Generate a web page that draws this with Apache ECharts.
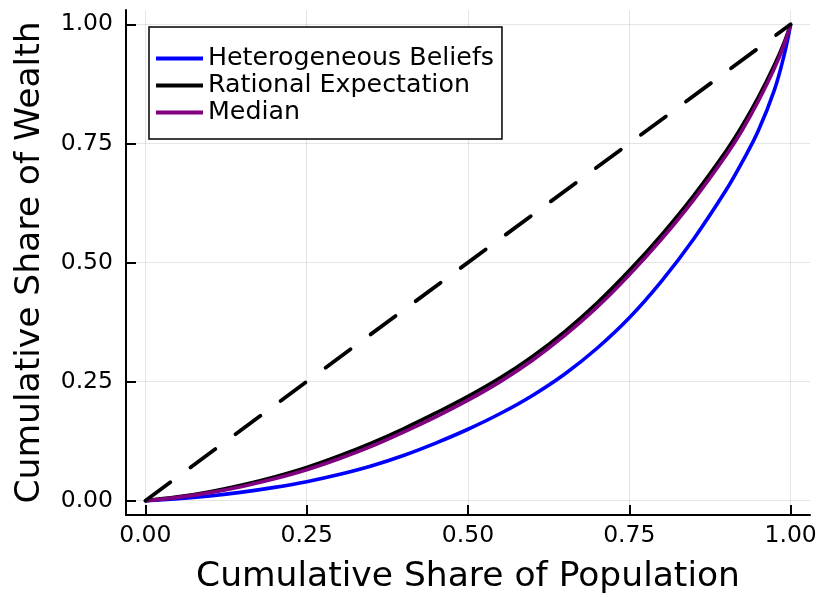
<!DOCTYPE html>
<html>
<head>
<meta charset="utf-8">
<title>Lorenz curves</title>
<script src="https://cdn.jsdelivr.net/npm/echarts@6/dist/echarts.min.js"></script>
<style>
  html, body { margin: 0; padding: 0; background: #ffffff; }
  #chart { width: 822px; height: 597px; }
</style>
</head>
<body>
<div id="chart"></div>
<script>
// Cumulative share of population (x) for every curve
const populationShare = [0, 0.05, 0.1, 0.15, 0.2, 0.25, 0.3, 0.35, 0.4, 0.45, 0.5, 0.55, 0.6,
  0.65, 0.7, 0.75, 0.8, 0.85, 0.9, 0.925, 0.95, 0.975, 0.99, 1];

// Cumulative share of wealth for each model
const heterogeneousBeliefs = [0, 0.004, 0.010, 0.018, 0.028, 0.040, 0.055, 0.073, 0.095, 0.121, 0.150,
  0.183, 0.221, 0.266, 0.320, 0.384, 0.461, 0.550, 0.652, 0.711, 0.777, 0.863, 0.936, 1];
const rationalExpectation = [0, 0.008, 0.019, 0.033, 0.050, 0.070, 0.094, 0.121, 0.151, 0.184, 0.219,
  0.258, 0.303, 0.355, 0.415, 0.483, 0.558, 0.641, 0.734, 0.787, 0.847, 0.915, 0.962, 1];
const medianWealth = [0, 0.007, 0.017, 0.030, 0.046, 0.065, 0.088, 0.114, 0.144, 0.176, 0.211,
  0.250, 0.295, 0.347, 0.406, 0.474, 0.549, 0.632, 0.725, 0.778, 0.839, 0.908, 0.958, 1];

// Line of perfect equality
const equalityLine = [[0, 0], [1, 1]];

// Tick positions shared by both axes
const tickValues = [0, 0.25, 0.5, 0.75, 1];

const seriesNames = ['Heterogeneous Beliefs', 'Rational Expectation', 'Median'];

const FONT = 'DejaVu Sans';

function pairs(ys) {
  return populationShare.map((x, i) => [x, ys[i]]);
}

function curve(name, ys, color) {
  return {
    name: name,
    type: 'line',
    data: pairs(ys),
    smooth: 0.4,
    showSymbol: false,
    symbol: 'none',
    lineStyle: { color: color, width: 3.6 },
    itemStyle: { color: color },
    emphasis: { disabled: true }
  };
}

function axis(nameText, isX) {
  return {
    type: 'value',
    min: -0.03,
    max: 1.03,
    name: nameText,
    nameLocation: 'middle',
    nameGap: isX ? 45 : 78,
    nameTextStyle: { fontFamily: FONT, fontSize: 34.5, color: '#000' },
    axisLine: { show: true, onZero: false, lineStyle: { color: '#000', width: 2 } },
    axisTick: {
      show: true, inside: true, length: 10,
      customValues: tickValues,
      lineStyle: { color: '#000', width: 2 }
    },
    axisLabel: {
      customValues: tickValues,
      formatter: v => v.toFixed(2),
      fontFamily: FONT, fontSize: 23.5, color: '#000',
      margin: isX ? 9 : 13
    },
    splitLine: { show: true, lineStyle: { color: 'rgba(0,0,0,0.1)', width: 1 } }
  };
}

const chart = echarts.init(document.getElementById('chart'), null, { renderer: 'canvas' });

chart.setOption({
  animation: false,
  backgroundColor: '#ffffff',
  grid: { left: 126, right: 12, top: 10, bottom: 82, containLabel: false, outerBoundsMode: 'none' },
  xAxis: axis('Cumulative Share of Population', true),
  yAxis: axis('Cumulative Share of Wealth', false),
  legend: {
    data: seriesNames,
    orient: 'vertical',
    left: 149,
    top: 27,
    padding: [18, 8, 13, 7],
    itemGap: 0,
    itemWidth: 47,
    itemHeight: 4,
    icon: 'rect',
    backgroundColor: '#ffffff',
    borderColor: '#000000',
    borderWidth: 1.5,
    borderRadius: 0,
    selectedMode: false,
    textStyle: { fontFamily: FONT, fontSize: 25.3, color: '#000', lineHeight: 27 }
  },
  series: [
    curve(seriesNames[0], heterogeneousBeliefs, '#0000ff'),
    curve(seriesNames[1], rationalExpectation, '#000000'),
    curve(seriesNames[2], medianWealth, '#800080'),
    {
      type: 'line',
      data: equalityLine,
      showSymbol: false,
      symbol: 'none',
      lineStyle: { color: '#000', width: 3.8, type: [31, 25], cap: 'round' },
      emphasis: { disabled: true }
    }
  ]
});
</script>
</body>
</html>
